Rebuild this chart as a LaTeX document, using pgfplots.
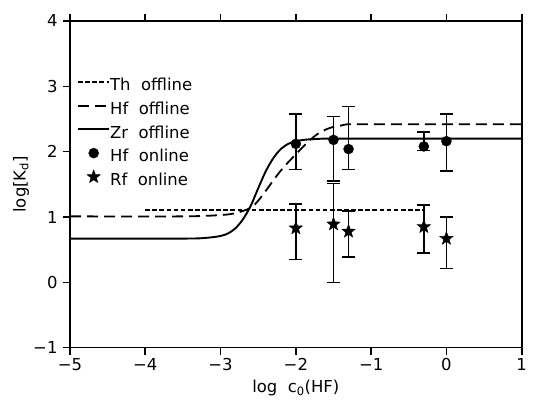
\documentclass[border=0pt]{standalone}
\usepackage{fontspec}
\setmainfont{DejaVu Sans}
\usepackage{pgfplots}
\pgfplotsset{compat=1.18}
\pgfdeclareplotmark{fstar}{%
  \pgfpathmoveto{\pgfpointpolar{90}{\pgfplotmarksize}}%
  \pgfpathlineto{\pgfpointpolar{126}{0.42\pgfplotmarksize}}%
  \pgfpathlineto{\pgfpointpolar{162}{\pgfplotmarksize}}%
  \pgfpathlineto{\pgfpointpolar{198}{0.42\pgfplotmarksize}}%
  \pgfpathlineto{\pgfpointpolar{234}{\pgfplotmarksize}}%
  \pgfpathlineto{\pgfpointpolar{270}{0.42\pgfplotmarksize}}%
  \pgfpathlineto{\pgfpointpolar{306}{\pgfplotmarksize}}%
  \pgfpathlineto{\pgfpointpolar{342}{0.42\pgfplotmarksize}}%
  \pgfpathlineto{\pgfpointpolar{18}{\pgfplotmarksize}}%
  \pgfpathlineto{\pgfpointpolar{54}{0.42\pgfplotmarksize}}%
  \pgfpathclose
  \pgfusepathqfillstroke}
\begin{document}
\begin{tikzpicture}
\begin{axis}[
  name=ax,
  scale only axis,
  width=451.7bp, height=326.7bp,
  xmin=-5, xmax=1, ymin=-1, ymax=4,
  xtick={-5,-4,-3,-2,-1,0,1},
  xticklabels={−5,−4,−3,−2,−1,0,1},
  ytick={-1,0,1,2,3,4},
  yticklabels={−1,0,1,2,3,4},
  tick align=outside,
  xtick pos=both,
  ytick pos=left,
  major tick length=7bp,
  axis line style={line width=1.6bp},
  every tick/.style={line width=1.6bp, black},
  ticklabel style={font=\fontsize{16.5}{20}\selectfont},
  yticklabel style={xshift=-2bp},
  xlabel={log\ \ c\textsubscript{0}(HF)},
  ylabel={log[K\textsubscript{d}]},
  label style={font=\fontsize{16.5}{20}\selectfont},
  xlabel style={at={(axis description cs:0.5,0)}, anchor=base, yshift=-45bp},
  ylabel style={at={(axis description cs:0,0.5)}, anchor=center, yshift=49bp},
  legend cell align=left,
  legend style={draw=none, fill=none, inner sep=0bp, at={(rel axis cs:0.0177,0.828)}, anchor=north west,
    font=\fontsize{16.5}{20}\selectfont, row sep=7bp,
    nodes={inner xsep=1bp, inner ysep=0bp, text height=12bp, text depth=3.5bp}},
  legend image code/.code={%
    \begin{pgfinterruptboundingbox}
    \draw[mark repeat=2,mark phase=2,#1] plot coordinates {(0bp,4.5bp) (15.5bp,4.5bp) (31bp,4.5bp)};
    \end{pgfinterruptboundingbox}
    \pgfpathrectanglecorners{\pgfpoint{0bp}{0bp}}{\pgfpoint{31bp}{9bp}}\pgfusepath{use as bounding box}},
]
% Th offline
\addplot[black, line width=2bp, dash pattern=on 4.7bp off 2.4bp] coordinates {(-4,1.10) (-0.3,1.10)};
\addlegendentry{Th\ \ offline}
% Hf offline
\addplot[black, line width=1.8bp, dash pattern=on 11bp off 6bp, smooth] coordinates {
(-5,1.01) (-3.5,1.01) (-3.0,1.03) (-2.8,1.06) (-2.6,1.14) (-2.5,1.25) (-2.4,1.40)
(-2.3,1.56) (-2.2,1.71) (-2.1,1.84) (-2.0,1.96) (-1.9,2.08) (-1.8,2.19) (-1.7,2.28)
(-1.6,2.34) (-1.5,2.38) (-1.4,2.40) (-1.3,2.42) (-1.0,2.42) (1,2.42)};
\addlegendentry{Hf\ \ offline}
% Zr offline
\addplot[black, line width=1.9bp, smooth] coordinates {
(-5,0.67) (-3.5,0.67) (-3.2,0.68) (-3.0,0.71) (-2.9,0.75) (-2.8,0.83) (-2.7,0.97)
(-2.6,1.17) (-2.5,1.44) (-2.4,1.70) (-2.3,1.90) (-2.2,2.04) (-2.1,2.12) (-2.0,2.16)
(-1.9,2.18) (-1.8,2.19) (-1.6,2.20) (-1.2,2.20) (1,2.20)};
\addlegendentry{Zr\ \ offline}
% Hf online
\addplot[black, only marks, mark=*, mark size=5bp,
  error bars/.cd, y dir=both, y explicit,
  error bar style={line width=1.6bp, black},
  error mark options={rotate=90, mark size=6.5bp, line width=1.6bp, black}]
coordinates {
(-2,2.12) += (0,0.46) -= (0,0.39)
(-1.5,2.18) += (0,0.36) -= (0,0.63)
(-1.3,2.04) += (0,0.65) -= (0,0.31)
(-0.3,2.08) += (0,0.22) -= (0,0.06)
(0,2.16) += (0,0.42) -= (0,0.46)
};
\addlegendentry{Hf\ \ online}
% Rf online
\addplot[black, only marks, mark=fstar, mark size=7bp,
  error bars/.cd, y dir=both, y explicit,
  error bar style={line width=1.6bp, black},
  error mark options={rotate=90, mark size=6.5bp, line width=1.6bp, black}]
coordinates {
(-2,0.83) += (0,0.37) -= (0,0.48)
(-1.5,0.89) += (0,0.62) -= (0,0.89)
(-1.3,0.78) += (0,0.31) -= (0,0.39)
(-0.3,0.85) += (0,0.33) -= (0,0.40)
(0,0.67) += (0,0.33) -= (0,0.46)
};
\addlegendentry{Rf\ \ online}
\end{axis}
\pgfresetboundingbox
\path[use as bounding box] ([xshift=-70bp,yshift=-52.3bp]ax.south west) rectangle ([xshift=11.3bp,yshift=21bp]ax.north east);
\end{tikzpicture}
\end{document}
